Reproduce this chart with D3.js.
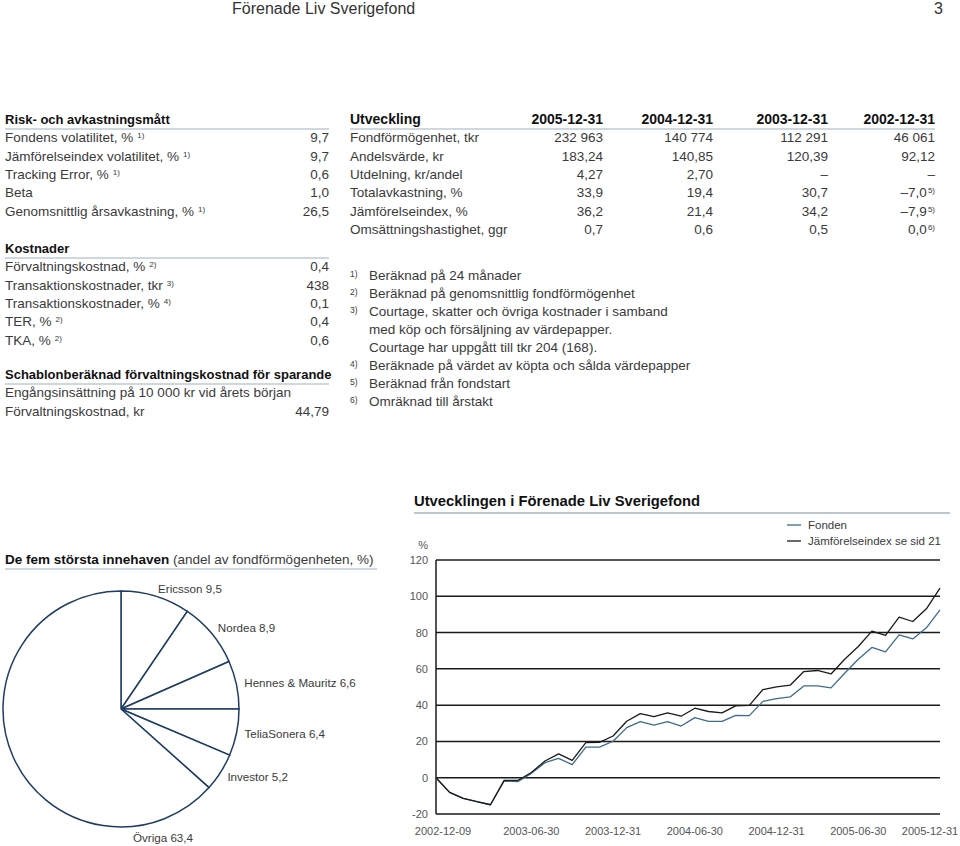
<!DOCTYPE html>
<html>
<head>
<meta charset="utf-8">
<script src="https://cdn.jsdelivr.net/npm/d3@7"></script>
<style>
  body { margin: 0; background: #fff; }
  svg { display: block; font-family: "Liberation Sans", Arial, Helvetica, sans-serif; }
  .txt { fill: #3a3a3a; font-size: 13.5px; }
  .hdr { fill: #111; font-size: 13px; font-weight: bold; }
  .rule { stroke: #9fb0c0; stroke-width: 1.2; }
</style>
</head>
<body>
<svg width="960" height="846"></svg>
<script>
// ---- data ----
const pageTitle = "Förenade Liv Sverigefond";
const pageNumber = "3";

const riskLabels = ["Fondens volatilitet, %", "Jämförelseindex volatilitet, %", "Tracking Error, %", "Beta", "Genomsnittlig årsavkastning, %"];
const riskNotes = ["1)", "1)", "1)", "", "1)"];
const riskValues = ["9,7", "9,7", "0,6", "1,0", "26,5"];

const costLabels = ["Förvaltningskostnad, %", "Transaktionskostnader, tkr", "Transaktionskostnader, %", "TER, %", "TKA, %"];
const costNotes = ["2)", "3)", "4)", "2)", "2)"];
const costValues = ["0,4", "438", "0,1", "0,4", "0,6"];

const schabLabels = ["Engångsinsättning på 10 000 kr vid årets början", "Förvaltningskostnad, kr"];
const schabValues = ["", "44,79"];

const devYears = ["2005-12-31", "2004-12-31", "2003-12-31", "2002-12-31"];
const devLabels = ["Fondförmögenhet, tkr", "Andelsvärde, kr", "Utdelning, kr/andel", "Totalavkastning, %", "Jämförelseindex, %", "Omsättningshastighet, ggr"];
const devValues = [
  ["232 963", "140 774", "112 291", "46 061"],
  ["183,24", "140,85", "120,39", "92,12"],
  ["4,27", "2,70", "–", "–"],
  ["33,9", "19,4", "30,7", "–7,0"],
  ["36,2", "21,4", "34,2", "–7,9"],
  ["0,7", "0,6", "0,5", "0,0"]
];
const devNotes = [
  ["", "", "", ""], ["", "", "", ""], ["", "", "", ""],
  ["", "", "", "5)"], ["", "", "", "5)"], ["", "", "", "6)"]
];

const footNums = ["1)", "2)", "3)", "", "", "4)", "5)", "6)"];
const footTexts = [
  "Beräknad på 24 månader",
  "Beräknad på genomsnittlig fondförmögenhet",
  "Courtage, skatter och övriga kostnader i samband",
  "med köp och försäljning av värdepapper.",
  "Courtage har uppgått till tkr 204 (168).",
  "Beräknade på värdet av köpta och sålda värdepapper",
  "Beräknad från fondstart",
  "Omräknad till årstakt"
];

const holdingNames = ["Ericsson", "Nordea", "Hennes & Mauritz", "TeliaSonera", "Investor", "Övriga"];
const holdingShares = [9.5, 8.9, 6.6, 6.4, 5.2, 63.4];

const dates = ["2002-12-09", "2002-12-31", "2003-01-31", "2003-02-28", "2003-03-31", "2003-04-30", "2003-05-31",
  "2003-06-30", "2003-07-31", "2003-08-31", "2003-09-30", "2003-10-31", "2003-11-30", "2003-12-31",
  "2004-01-31", "2004-02-29", "2004-03-31", "2004-04-30", "2004-05-31", "2004-06-30", "2004-07-31",
  "2004-08-31", "2004-09-30", "2004-10-31", "2004-11-30", "2004-12-31", "2005-01-31", "2005-02-28",
  "2005-03-31", "2005-04-30", "2005-05-31", "2005-06-30", "2005-07-31", "2005-08-31", "2005-09-30",
  "2005-10-31", "2005-11-30", "2005-12-31"];
const fonden = [0, -8.1, -11.4, -13.2, -14.9, -1.8, -2.2, 2.4, 8.3, 10.7, 7.2, 16.9, 16.9, 20.1,
  27.6, 30.9, 29, 30.9, 28.5, 33.1, 31.1, 31.1, 34.4, 34.2, 42.1, 43.6, 44.5, 50.6,
  50.6, 49.5, 57.6, 65.3, 71.8, 69.4, 78.7, 76.5, 82.6, 92.5];
const jamforelse = [0, -8.1, -11.4, -13.2, -14.9, -1.5, -1.5, 2.9, 9.2, 13.1, 9.6, 19.3, 19.5, 23,
  31.1, 35.3, 33.7, 35.7, 33.9, 38.3, 36.5, 35.7, 39.6, 39.9, 48.6, 50.1, 51, 58.5,
  59.1, 57.2, 65.3, 72.3, 80.8, 78.4, 88.5, 86.1, 93.1, 104.5];
const xTickDates = ["2002-12-09", "2003-06-30", "2003-12-31", "2004-06-30", "2004-12-31", "2005-06-30", "2005-12-31"];
const yTicks = [-20, 0, 20, 40, 60, 80, 100, 120];
const legendNames = ["Fonden", "Jämförelseindex se sid 21"];
const seriesColors = ["#3d6b8c", "#1a1a1a"];

const svg = d3.select("svg");

// page header
svg.append("text").attr("x", 232).attr("y", 14).attr("fill", "#333").attr("font-size", 16).text(pageTitle);
svg.append("text").attr("x", 943).attr("y", 14).attr("fill", "#333").attr("font-size", 16)
  .attr("text-anchor", "end").text(pageNumber);

// helper: row of text with optional superscript note
function addLabel(g, x, y, label, note, cls) {
  const t = g.append("text").attr("class", cls || "txt").attr("x", x).attr("y", y).text(label);
  if (note) t.append("tspan").attr("dx", 4).attr("dy", -4).style("font-size", "8px").text(note);
  return t;
}

// ---- left tables ----
const left = svg.append("g");
const rowH = 18.3;
function block(top, title, labels, notes, values) {
  left.append("text").attr("class", "hdr").attr("x", 5).attr("y", top).text(title);
  left.append("line").attr("class", "rule").attr("x1", 5).attr("x2", 329).attr("y1", top + 5).attr("y2", top + 5);
  labels.forEach((l, i) => {
    const y = top + rowH * (i + 1);
    addLabel(left, 5, y, l, notes[i]);
    left.append("text").attr("class", "txt").attr("x", 329).attr("y", y).attr("text-anchor", "end").text(values[i]);
  });
}
block(124, "Risk- och avkastningsmått", riskLabels, riskNotes, riskValues);
block(253, "Kostnader", costLabels, costNotes, costValues);
block(379, "Schablonberäknad förvaltningskostnad för sparande", schabLabels, ["", ""], schabValues);

// ---- right table ----
const right = svg.append("g");
const colX = [603, 713, 828, 935];
right.append("text").attr("class", "hdr").attr("x", 350).attr("y", 124).style("font-size", "14px").text("Utveckling");
devYears.forEach((yr, j) => {
  right.append("text").attr("class", "hdr").attr("x", colX[j]).attr("y", 124).style("font-size", "14px")
    .attr("text-anchor", "end").text(yr);
});
right.append("line").attr("class", "rule").attr("x1", 350).attr("x2", 935).attr("y1", 129).attr("y2", 129);
devLabels.forEach((l, i) => {
  const y = 124 + rowH * (i + 1);
  addLabel(right, 350, y, l, "");
  devValues[i].forEach((v, j) => {
    const t = right.append("text").attr("class", "txt").attr("x", colX[j]).attr("y", y).attr("text-anchor", "end").text(v);
    if (devNotes[i][j]) t.append("tspan").attr("dx", 1).attr("dy", -4).style("font-size", "8px").text(devNotes[i][j]);
  });
});

// footnotes
footTexts.forEach((f, i) => {
  const y = 280 + 18 * i;
  if (footNums[i]) right.append("text").attr("x", 350).attr("y", y - 3).attr("font-size", 8.5).attr("fill", "#3a3a3a").text(footNums[i]);
  right.append("text").attr("class", "txt").attr("x", 369).attr("y", y).text(f);
});

// ---- pie ----
const pieG = svg.append("g");
const ptitle = pieG.append("text").attr("x", 5).attr("y", 564).attr("font-size", 13.5).attr("fill", "#111");
ptitle.append("tspan").attr("font-weight", "bold").text("De fem största innehaven ");
ptitle.append("tspan").attr("fill", "#3a3a3a").text("(andel av fondförmögenheten, %)");
pieG.append("line").attr("class", "rule").attr("x1", 5).attr("x2", 377).attr("y1", 569).attr("y2", 569);

const cx = 121, cy = 709, radius = 118;
const pie = d3.pie().sort(null).value(d => d.value);
const arcs = pie(holdingNames.map((n, i) => ({ name: n, value: holdingShares[i] })));
const arc = d3.arc().innerRadius(0).outerRadius(radius);
const pg = pieG.append("g").attr("transform", `translate(${cx},${cy})`);
pg.selectAll("path").data(arcs).join("path")
  .attr("d", arc).attr("fill", "#fff").attr("stroke", "#1f3d63").attr("stroke-width", 1.5);

const fmt = v => String(v).replace(".", ",");
arcs.forEach((a, i) => {
  const last = i === arcs.length - 1;
  const ang = last ? Math.PI * 0.9 : (a.startAngle + a.endAngle) / 2;
  const r = last ? radius + 18 : radius + 8;
  pg.append("text").attr("fill", "#3a3a3a").attr("font-size", 11.6)
    .attr("x", Math.sin(ang) * r).attr("y", -Math.cos(ang) * r + 4)
    .attr("text-anchor", last ? "middle" : "start")
    .text(`${a.data.name} ${fmt(a.data.value)}`);
});

// ---- line chart ----
const lc = svg.append("g");
lc.append("text").attr("x", 414).attr("y", 506).attr("font-size", 14.8).attr("font-weight", "bold").attr("fill", "#111")
  .text("Utvecklingen i Förenade Liv Sverigefond");
lc.append("line").attr("x1", 414).attr("x2", 950).attr("y1", 513).attr("y2", 513)
  .attr("stroke", "#a9b3bd").attr("stroke-width", 1.5);

const x = d3.scalePoint().domain(dates).range([436, 940]);
const y = d3.scaleLinear().domain([-20, 120]).range([814, 560]);

lc.selectAll(".grid").data(yTicks).join("line").attr("class", "grid")
  .attr("x1", 436).attr("x2", 940).attr("y1", d => y(d)).attr("y2", d => y(d))
  .attr("stroke", "#1a1a1a").attr("stroke-width", 1.5);
lc.append("line").attr("x1", 436).attr("x2", 436).attr("y1", y(120)).attr("y2", y(-20))
  .attr("stroke", "#1a1a1a").attr("stroke-width", 1.5);

lc.selectAll(".ytick").data(yTicks).join("text").attr("class", "ytick")
  .attr("x", 428).attr("y", d => y(d) + 4).attr("text-anchor", "end")
  .attr("font-size", 11).attr("fill", "#555").text(d => d);
lc.append("text").attr("x", 428).attr("y", y(120) - 11).attr("text-anchor", "end")
  .attr("font-size", 11).attr("fill", "#555").text("%");

lc.selectAll(".xtick").data(xTickDates).join("text").attr("class", "xtick")
  .attr("x", d => x(d)).attr("dx", (d, i) => i === 0 ? 7 : (i === xTickDates.length - 1 ? -10 : 0))
  .attr("y", 835).attr("text-anchor", "middle")
  .attr("font-size", 11).attr("fill", "#555").text(d => d);

const line = d3.line().x((d, i) => x(dates[i])).y(d => y(d));
[fonden, jamforelse].forEach((s, k) => {
  lc.append("path").attr("d", line(s)).attr("fill", "none")
    .attr("stroke", seriesColors[k]).attr("stroke-width", 1.3).attr("stroke-linejoin", "round");
});

// legend
legendNames.forEach((n, k) => {
  const ly = 525 + 16 * k;
  lc.append("line").attr("x1", 787).attr("x2", 801).attr("y1", ly).attr("y2", ly)
    .attr("stroke", seriesColors[k]).attr("stroke-width", 1.3);
  lc.append("text").attr("x", 808).attr("y", ly + 4).attr("font-size", 11.5).attr("fill", "#3a3a3a").text(n);
});
</script>
</body>
</html>
